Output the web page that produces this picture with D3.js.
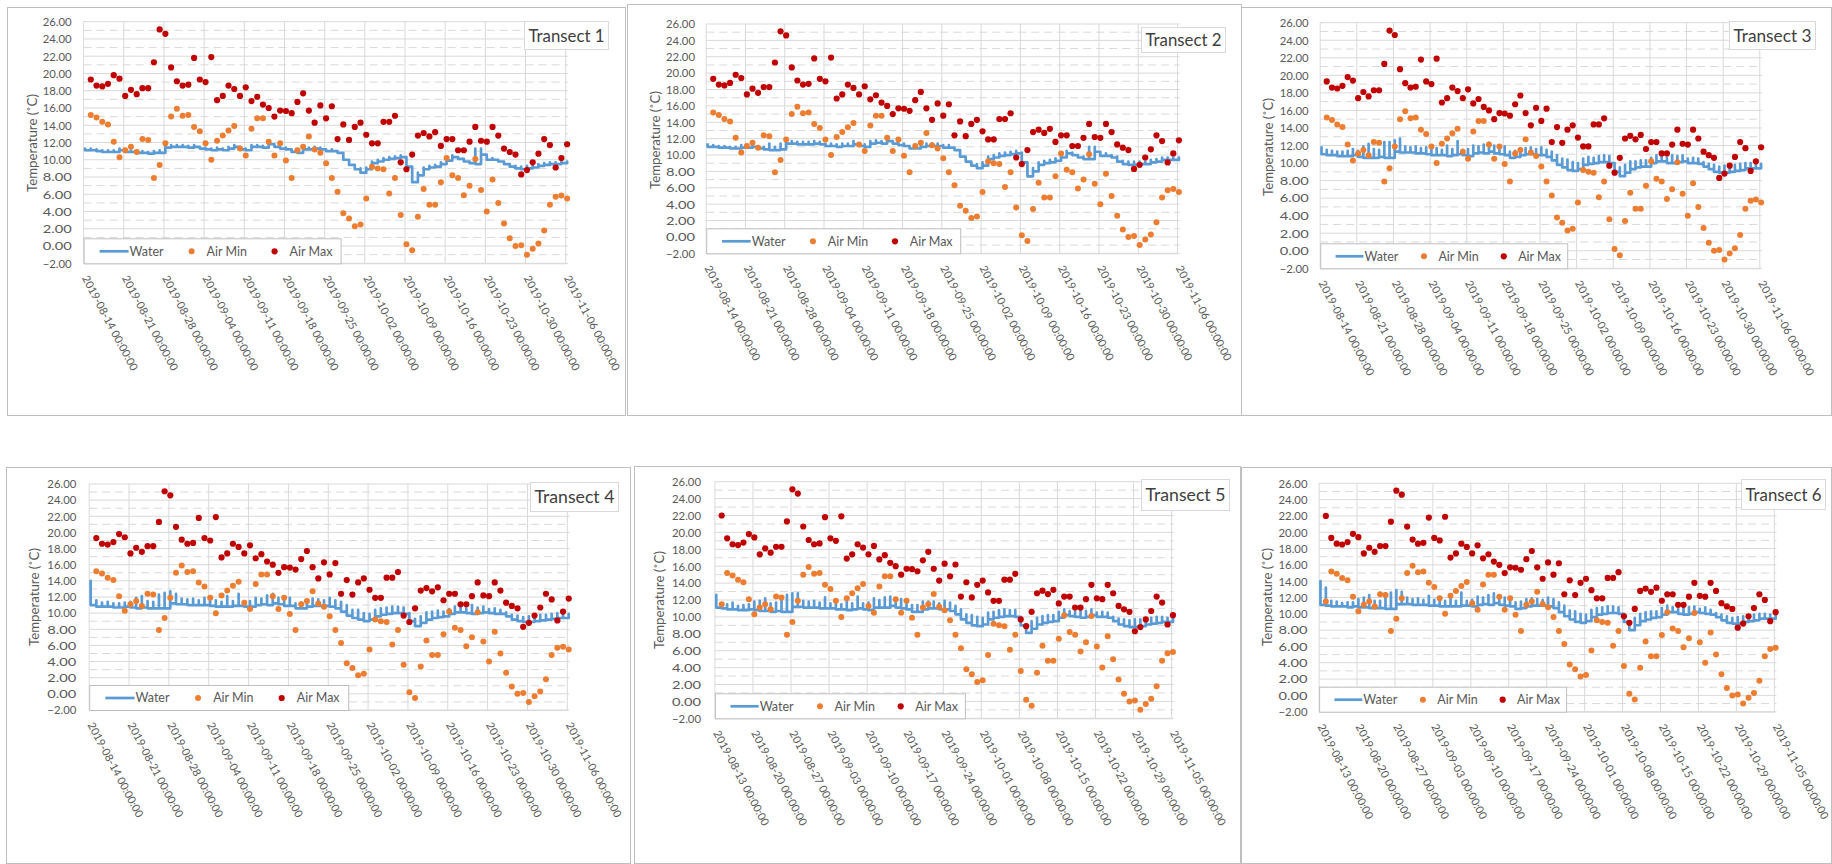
<!DOCTYPE html>
<html>
<head>
<meta charset="utf-8">
<script src="https://cdnjs.cloudflare.com/ajax/libs/d3/7.8.5/d3.min.js"></script>
<style>
  body { margin: 0; background: #fff; }
  svg { display: block; }
  text { font-family: Lato, "Open Sans", "Liberation Sans", sans-serif; }
</style>
</head>
<body>
<svg id="chart" width="1832" height="864"></svg>
<script>
// ---- data -----------------------------------------------------------
const titles = ["Transect 1", "Transect 2", "Transect 3", "Transect 4", "Transect 5", "Transect 6"];
const seriesNames = ["Water", "Air Min", "Air Max"];
const yTicks = [-2, 0, 2, 4, 6, 8, 10, 12, 14, 16, 18, 20, 22, 24, 26];

// weekly date ticks (transects 1-4 and transects 5-6)
const ticksA = ["2019-08-14", "2019-08-21", "2019-08-28", "2019-09-04", "2019-09-11", "2019-09-18", "2019-09-25",
                "2019-10-02", "2019-10-09", "2019-10-16", "2019-10-23", "2019-10-30", "2019-11-06"];
const ticksB = ["2019-08-13", "2019-08-20", "2019-08-27", "2019-09-03", "2019-09-10", "2019-09-17", "2019-09-24",
                "2019-10-01", "2019-10-08", "2019-10-15", "2019-10-22", "2019-10-29", "2019-11-05"];

// daily air temperature (°C); transects 1-4 show days 2..85, transects 5-6 days 1..84
const airMax = [22.0,
  19.3,18.6,18.5,18.8,19.8,19.4,17.4,18.1,17.6,18.3,
  18.3,21.3,25.1,24.6,20.7,19.1,18.6,18.7,21.8,19.3,
  19.0,21.9,16.9,17.4,18.6,18.2,17.4,18.4,16.8,17.3,
  16.4,16.0,15.0,15.7,15.65,15.4,16.7,17.7,15.7,14.3,
  16.3,14.8,16.2,12.4,14.1,12.3,13.8,14.3,12.9,11.9,
  11.9,14.4,14.4,15.1,9.7,8.9,10.6,12.8,13.1,12.7,
  13.2,11.6,12.4,12.4,11.1,11.1,12.1,13.8,12.2,12.1,
  13.8,12.8,11.3,10.9,10.6,8.3,8.8,9.7,10.7,12.4,
  11.7,9.1,10.2,11.8];
const airMin = [11.5,
  15.2,14.9,14.4,14.1,12.1,10.3,11.1,11.5,10.9,12.4,
  12.3,7.9,9.4,11.9,15.0,15.9,15.1,15.2,13.8,13.3,
  11.9,10.0,12.2,12.8,13.4,13.9,11.3,10.5,13.6,14.8,
  14.8,12.1,10.5,11.9,9.9,7.9,11.1,11.5,12.7,11.2,
  10.8,9.6,7.9,6.3,3.8,3.2,2.3,2.5,5.5,9.2,
  9.0,8.9,6.1,7.9,3.6,0.2,-0.5,3.4,6.6,4.8,
  4.8,7.4,10.2,8.2,7.9,5.9,7.0,10.1,6.5,4.0,
  7.7,5.0,2.6,0.9,0.0,0.1,-1.0,-0.3,0.3,1.8,
  4.8,5.7,5.85,5.5];

// daily water temperature: end-of-day level and daily peak (°C), one pair per transect
const water1 = [11.1,11.1,11.0,10.9,10.9,10.9,11.1,10.9,10.9,10.8,
  10.8,10.7,10.8,10.8,11.4,11.5,11.5,11.5,11.4,11.5,
  11.3,11.2,11.1,11.2,11.1,11.3,11.5,11.2,11.1,11.5,
  11.5,11.4,11.8,11.5,11.3,11.2,10.9,10.8,11.2,11.2,
  11.3,11.2,11.0,11.0,10.8,10.0,9.4,8.9,8.5,8.9,
  9.6,9.8,10.0,10.1,10.2,10.3,9.2,7.4,8.2,8.9,
  9.1,9.2,9.5,9.9,10.3,10.1,9.8,9.6,9.5,10.6,
  10.0,10.0,9.8,9.5,9.2,9.0,8.9,9.0,9.1,9.3,
  9.4,9.5,9.5,9.6,9.6];
const peak1 = [11.3,11.3,11.2,11.1,11.1,11.1,11.3,11.1,11.1,11.0,
  11.0,10.9,11.0,11.1,11.6,11.7,11.7,11.7,11.6,11.7,
  11.5,11.4,11.3,11.4,11.3,11.5,11.7,11.4,11.3,11.7,
  11.7,11.6,12.0,11.7,11.5,11.4,11.1,11.0,11.4,11.4,
  11.5,11.4,11.2,11.2,11.0,10.8,10.0,9.4,9.0,9.1,
  9.8,10.0,10.2,10.3,10.4,10.5,10.3,9.2,8.5,9.1,
  9.3,9.4,9.7,10.1,10.5,10.3,10.0,9.8,11.3,11.3,
  10.6,10.2,10.0,9.8,9.5,9.3,9.2,9.3,9.3,9.5,
  9.6,9.7,9.7,9.8,9.8];
const water2 = [11.0,11.0,10.9,10.9,10.8,10.8,10.9,10.9,11.0,10.8,
  10.7,10.6,10.6,10.7,11.4,11.4,11.3,11.3,11.3,11.4,
  11.3,11.1,11.1,11.0,11.1,11.1,11.3,11.1,11.0,11.4,
  11.5,11.4,11.7,11.4,11.2,11.1,10.8,10.8,11.0,11.1,
  11.1,11.1,10.9,10.9,10.6,9.8,9.2,8.7,8.4,8.7,
  9.5,9.7,9.9,10.0,10.1,10.2,9.1,7.4,8.0,8.8,
  9.0,9.1,9.3,9.7,10.2,10.0,9.7,9.5,9.5,10.4,
  9.9,9.9,9.7,9.2,8.9,8.8,8.8,8.9,8.9,9.1,
  9.2,9.4,9.4,9.4,9.4];
const peak2 = [11.3,11.2,11.1,11.1,11.0,11.0,11.2,11.1,11.3,11.1,
  11.0,11.4,11.0,11.4,11.7,11.7,11.6,11.6,11.6,11.7,
  11.6,11.4,11.4,11.3,11.4,11.4,11.7,11.4,11.3,11.7,
  11.8,11.7,12.0,11.7,11.5,11.4,11.1,11.1,11.3,11.4,
  11.4,11.4,11.2,11.2,10.9,10.6,9.8,9.1,8.9,9.1,
  9.8,10.0,10.2,10.3,10.4,10.5,10.3,8.5,8.4,9.1,
  9.3,9.4,9.6,10.0,10.5,10.3,10.0,9.8,11.0,11.0,
  10.2,10.2,10.0,9.8,9.3,9.2,9.2,9.2,9.2,9.4,
  9.5,9.7,9.7,9.7,9.7];
const water3 = [11.0,10.9,10.9,10.8,10.8,10.8,10.9,10.7,10.6,10.6,
  10.6,10.7,10.6,10.6,11.3,11.2,11.2,11.2,11.1,11.1,
  11.0,10.9,10.9,10.9,10.8,10.9,11.0,10.9,10.8,11.1,
  11.2,11.1,11.3,11.1,11.0,10.9,10.6,10.7,10.9,11.0,
  11.0,10.9,10.9,10.7,10.3,9.8,9.5,9.2,9.1,9.3,
  9.8,9.9,10.0,10.1,10.1,10.0,9.0,8.5,8.9,9.3,
  9.5,9.6,9.6,10.0,10.2,10.2,10.0,10.0,10.1,10.2,
  10.0,10.0,9.9,9.6,9.3,9.0,8.9,8.9,9.0,9.1,
  9.2,9.4,9.4,9.4,9.4];
const peak3 = [11.8,11.5,11.4,11.3,11.3,11.4,11.6,11.4,11.9,12.2,
  11.6,11.5,12.4,12.4,12.6,12.8,11.9,11.8,11.9,11.7,
  11.8,11.6,11.7,11.5,12.0,11.6,12.5,11.5,11.6,12.0,
  11.9,12.1,12.3,12.0,11.8,11.9,11.3,11.4,11.7,11.7,
  11.8,11.6,11.8,11.5,11.3,10.9,10.5,10.4,10.1,10.0,
  10.5,10.7,10.6,10.8,10.9,10.8,10.0,9.5,9.8,10.2,
  10.2,10.3,10.3,10.6,10.9,10.8,10.6,10.9,10.8,10.9,
  10.5,10.6,10.5,10.1,9.9,9.8,9.6,9.7,9.8,9.8,
  9.9,10.0,10.0,9.9,9.9];
const water4 = [11.0,10.8,10.8,10.8,10.7,10.7,10.8,10.7,10.6,10.7,
  10.6,10.6,10.6,10.6,11.2,11.1,11.1,11.0,11.0,11.0,
  11.0,10.9,10.8,10.8,10.8,10.9,10.9,10.8,10.8,11.0,
  11.1,11.0,11.2,11.1,10.9,10.9,10.6,10.6,10.8,10.9,
  10.9,10.9,10.8,10.6,10.2,9.7,9.4,9.2,9.0,9.2,
  9.6,9.8,9.9,10.0,10.0,9.9,9.0,8.4,8.8,9.2,
  9.4,9.5,9.6,9.9,10.1,10.1,10.0,9.9,10.0,10.1,
  10.0,9.9,9.9,9.6,9.2,9.0,8.9,8.9,9.0,9.1,
  9.2,9.3,9.4,9.4,9.4];
const peak4 = [14.0,11.6,11.3,11.4,11.2,11.2,11.3,11.4,11.9,12.1,
  11.5,11.4,12.3,12.5,12.7,12.4,11.8,11.7,11.8,11.6,
  11.9,11.5,11.6,11.4,12.1,11.5,12.4,11.5,11.5,11.9,
  11.8,12.2,12.4,11.9,11.7,11.9,11.2,11.3,11.6,11.8,
  11.7,11.6,11.9,11.6,11.4,11.0,10.4,10.4,10.0,9.9,
  10.4,10.6,10.7,10.8,10.8,10.7,10.0,9.3,9.6,10.1,
  10.2,10.3,10.2,10.5,10.8,10.7,10.6,11.0,10.7,10.8,
  10.5,10.6,10.4,10.1,9.8,9.7,9.5,9.6,9.7,9.8,
  9.8,9.9,10.0,9.9,9.9];
const water5 = [11.1,11.0,10.9,10.9,10.8,10.8,10.9,10.8,10.7,10.7,
  10.6,10.7,10.6,10.6,11.2,11.2,11.1,11.1,11.1,11.0,
  11.0,11.0,10.9,10.9,10.8,10.9,11.0,10.9,10.8,11.1,
  11.1,11.1,11.3,11.1,11.0,10.9,10.6,10.6,10.9,11.0,
  11.0,10.9,10.9,10.7,10.3,9.7,9.3,9.0,8.9,9.1,
  9.7,9.9,10.0,10.1,10.1,10.0,9.0,8.1,8.6,9.1,
  9.3,9.4,9.5,9.9,10.2,10.1,10.0,9.9,10.0,10.2,
  10.0,10.0,9.9,9.5,9.1,8.9,8.8,8.8,8.9,9.1,
  9.2,9.3,9.4,9.4,9.4];
const peak5 = [12.6,11.6,11.5,11.7,11.3,11.4,11.5,11.8,11.9,12.2,
  11.6,11.7,12.4,12.6,12.8,12.8,11.9,11.8,11.9,11.7,
  12.3,11.6,11.7,11.5,12.3,11.6,12.4,11.6,11.7,12.2,
  12.0,12.3,12.4,12.0,12.1,11.9,11.4,11.4,11.8,11.8,
  11.8,11.6,11.9,11.7,11.3,10.9,10.3,10.2,10.0,9.9,
  10.5,10.6,10.8,10.9,10.8,10.8,10.0,9.1,9.5,9.9,
  10.1,10.2,10.2,10.6,10.9,10.7,10.6,11.0,10.7,10.9,
  10.5,10.6,10.5,10.0,9.8,9.7,9.6,9.7,9.7,9.8,
  9.9,10.0,10.0,9.9,9.9];
const water6 = [11.1,11.0,10.9,10.9,10.9,10.8,10.9,10.8,10.8,10.7,
  10.7,10.7,10.6,10.6,11.2,11.2,11.2,11.1,11.1,11.1,
  11.0,11.0,10.9,10.9,10.9,10.9,11.0,11.0,10.9,11.1,
  11.2,11.1,11.3,11.1,11.0,10.9,10.6,10.7,10.9,11.0,
  11.0,11.0,10.9,10.7,10.2,9.7,9.3,9.0,8.9,9.1,
  9.6,9.9,10.0,10.1,10.1,10.0,9.0,8.0,8.6,9.1,
  9.3,9.5,9.6,9.9,10.2,10.2,10.0,9.9,10.0,10.2,
  10.1,10.0,9.9,9.6,9.2,8.9,8.8,8.8,9.0,9.1,
  9.2,9.4,9.4,9.4,9.4];
const peak6 = [14.0,13.2,11.6,11.5,11.3,11.4,11.4,11.8,12.0,12.3,
  11.6,11.6,12.5,12.6,12.9,12.7,12.0,11.8,11.9,11.7,
  12.2,11.7,11.8,11.6,12.2,11.6,12.6,11.6,11.7,12.1,
  12.0,12.3,12.5,12.0,12.0,12.0,11.4,11.5,11.8,11.9,
  11.8,11.7,12.0,11.8,11.4,11.0,10.4,10.3,10.0,9.9,
  10.5,10.7,10.8,10.9,10.9,10.8,10.0,9.0,9.5,10.0,
  10.2,10.3,10.3,10.7,11.0,10.8,10.6,11.1,10.8,10.9,
  10.6,10.8,10.5,10.1,9.9,9.7,9.5,9.6,9.7,9.8,
  9.9,10.0,10.0,9.9,9.9];

// ---- per-panel assembly ---------------------------------------------
const panels = [
  { title: titles[0], ticks: ticksA, water: water1, peak: peak1, max: airMax.slice(1), min: airMin.slice(1) },
  { title: titles[1], ticks: ticksA, water: water2, peak: peak2, max: airMax.slice(1), min: airMin.slice(1) },
  { title: titles[2], ticks: ticksA, water: water3, peak: peak3, max: airMax.slice(1), min: airMin.slice(1) },
  { title: titles[3], ticks: ticksA, water: water4, peak: peak4, max: airMax.slice(1), min: airMin.slice(1) },
  { title: titles[4], ticks: ticksB, water: water5, peak: peak5, max: airMax.slice(0, 84), min: airMin.slice(0, 84) },
  { title: titles[5], ticks: ticksB, water: water6, peak: peak6, max: airMax.slice(0, 84), min: airMin.slice(0, 84) }
];

// frame, plot area, label anchors, title box and legend width for each panel
const frames = [
  { box: [7, 7, 625, 415],      px: [83.6, 565.7],   py: [263.3, 21.7],  labR: 71.7,   yt: [32.3, 143],   tb: [524, 21, 84, 28],  lw: 257 },
  { box: [627, 4, 1241, 415],   px: [706.2, 1177.5], py: [253.3, 24],    labR: 695,    yt: [654.8, 140],  tb: [1141, 27, 84, 25], lw: 254 },
  { box: [1241, 7, 1831, 415],  px: [1320.2, 1759.8],py: [268.3, 22.7],  labR: 1308.7, yt: [1268.4, 147], tb: [1729, 21, 86, 28], lw: 247 },
  { box: [6, 467, 630, 863],    px: [89.2, 567.3],   py: [710, 484],     labR: 76.3,   yt: [34.2, 597],   tb: [530, 482, 88, 29], lw: 259 },
  { box: [634, 466, 1240, 863], px: [714.9, 1171.6], py: [718.3, 481.7], labR: 701,    yt: [658.8, 600],  tb: [1141, 479, 88, 31],lw: 250 },
  { box: [1241, 467, 1831, 863],px: [1319.1, 1774.3],py: [711.7, 483.3], labR: 1307.5, yt: [1267.2, 597], tb: [1741, 479, 84, 30],lw: 247 }
];

const C = { water: "#5B9BD5", min: "#ED7D31", max: "#C00000", grid: "#D9D9D9", text: "#595959", frame: "#BFBFBF" };
const parse = d3.utcParse("%Y-%m-%d");
const fmtTick = d3.utcFormat("%Y-%m-%d %H:%M:%S");
const svg = d3.select("#chart");
svg.append("rect").attr("width", 1832).attr("height", 864).attr("fill", "#fff");

panels.forEach((p, k) => {
  const f = frames[k];
  const g = svg.append("g");

  g.append("rect")
    .attr("x", f.box[0] + 0.5).attr("y", f.box[1] + 0.5)
    .attr("width", f.box[2] - f.box[0]).attr("height", f.box[3] - f.box[1])
    .attr("fill", "#fff").attr("stroke", C.frame).attr("stroke-width", 1);

  const tickDates = p.ticks.map(parse);
  const start = tickDates[0];
  const x = d3.scaleUtc().domain([start, tickDates[tickDates.length - 1]]).range(f.px);
  const y = d3.scaleLinear().domain([yTicks[0], yTicks[yTicks.length - 1]]).range(f.py);
  const dayAt = d => new Date(start.getTime() + d * 864e5);
  const xRight = x(dayAt(84.4));

  // horizontal gridlines: solid on labelled values, dashed halfway between
  g.append("g").selectAll("line").data(yTicks).join("line")
    .attr("x1", f.px[0]).attr("x2", xRight)
    .attr("y1", d => y(d)).attr("y2", d => y(d))
    .attr("stroke", C.grid).attr("stroke-width", 1);
  g.append("g").selectAll("line").data(yTicks.slice(1).map(v => v - 1)).join("line")
    .attr("x1", f.px[0]).attr("x2", xRight)
    .attr("y1", d => y(d)).attr("y2", d => y(d))
    .attr("stroke", C.grid).attr("stroke-width", 1).attr("stroke-dasharray", "8,5");
  // vertical gridlines on the weekly ticks
  g.append("g").selectAll("line").data(tickDates).join("line")
    .attr("x1", d => x(d)).attr("x2", d => x(d))
    .attr("y1", f.py[1]).attr("y2", f.py[0])
    .attr("stroke", C.grid).attr("stroke-width", 1);

  // y axis labels
  const ya = g.append("g").attr("transform", `translate(${f.labR + 4},0)`)
    .call(d3.axisLeft(y).tickValues(yTicks).tickFormat(d3.format(".2f")).tickSize(0).tickPadding(4));
  ya.select(".domain").remove();
  ya.selectAll("text").attr("fill", C.text).attr("font-size", 12)
    .attr("textLength", 29).attr("lengthAdjust", "spacingAndGlyphs");

  // x axis labels, rotated
  const xa = g.append("g").attr("transform", `translate(0,${f.py[0]})`)
    .call(d3.axisBottom(x).tickValues(tickDates).tickFormat(fmtTick).tickSize(0));
  xa.select(".domain").attr("stroke", C.grid);
  xa.selectAll("text")
    .attr("fill", C.text).attr("font-size", 11)
    .attr("text-anchor", "start")
    .attr("textLength", 106).attr("lengthAdjust", "spacingAndGlyphs")
    .attr("transform", "translate(1,13) rotate(62)")
    .attr("x", 0).attr("y", 0).attr("dy", "0.35em");

  // y axis title
  g.append("text")
    .attr("transform", `translate(${f.yt[0]},${f.yt[1]}) rotate(-90)`)
    .attr("text-anchor", "middle").attr("dy", "0.35em")
    .attr("fill", C.text).attr("font-size", 13.5)
    .attr("textLength", 98).attr("lengthAdjust", "spacingAndGlyphs")
    .text("Temperature (˚C)");

  // water: every reading of a day sits on that day's position
  const pts = [];
  p.water.forEach((v, i) => {
    const xi = x(dayAt(i + 0.25));
    const prev = i > 0 ? p.water[i - 1] : v;
    pts.push([xi, y(prev)]);
    if (p.peak[i] > Math.max(prev, v)) pts.push([xi, y(p.peak[i])]);
    pts.push([xi, y(v)]);
  });
  g.append("path")
    .attr("d", d3.line()(pts))
    .attr("fill", "none").attr("stroke", C.water)
    .attr("stroke-width", 2.7).attr("stroke-linejoin", "round").attr("stroke-linecap", "round");

  // air min / max markers
  g.append("g").selectAll("circle").data(p.min).join("circle")
    .attr("cx", (d, i) => x(dayAt(i + 1.25))).attr("cy", d => y(d))
    .attr("r", 3).attr("fill", C.min);
  g.append("g").selectAll("circle").data(p.max).join("circle")
    .attr("cx", (d, i) => x(dayAt(i + 1.25))).attr("cy", d => y(d))
    .attr("r", 3.1).attr("fill", C.max);

  // legend in the lower-left corner of the plot
  const lx = f.px[0], lyB = f.py[0], lh = 25, lw = f.lw, s = lw / 257;
  const lg = g.append("g").attr("transform", `translate(${lx},${lyB - lh})`);
  lg.append("rect").attr("x", 0.5).attr("y", 0.5).attr("width", lw).attr("height", lh)
    .attr("fill", "#fff").attr("stroke", C.frame);
  const cy = lh / 2 + 0.5;
  lg.append("line").attr("x1", 16 * s).attr("x2", 45 * s).attr("y1", cy).attr("y2", cy)
    .attr("stroke", C.water).attr("stroke-width", 2.7);
  lg.append("circle").attr("cx", 108 * s).attr("cy", cy).attr("r", 3).attr("fill", C.min);
  lg.append("circle").attr("cx", 191 * s).attr("cy", cy).attr("r", 3.1).attr("fill", C.max);
  const lt = [[46 * s, seriesNames[0]], [123 * s, seriesNames[1]], [206 * s, seriesNames[2]]];
  lg.selectAll("text").data(lt).join("text")
    .attr("x", d => d[0]).attr("y", cy).attr("dy", "0.35em")
    .attr("fill", C.text).attr("font-size", 12.5)
    .text(d => d[1]);

  // title box
  const tb = f.tb;
  g.append("rect").attr("x", tb[0] + 0.5).attr("y", tb[1] + 0.5).attr("width", tb[2]).attr("height", tb[3])
    .attr("fill", "#fff").attr("stroke", C.grid);
  g.append("text").attr("x", tb[0] + tb[2] / 2 + 0.5).attr("y", tb[1] + tb[3] / 2 + 0.5)
    .attr("text-anchor", "middle").attr("dy", "0.36em")
    .attr("fill", "#404040").attr("font-size", 18)
    .attr("textLength", tb[2] - 8).attr("lengthAdjust", "spacingAndGlyphs")
    .text(p.title);
});
</script>
</body>
</html>
